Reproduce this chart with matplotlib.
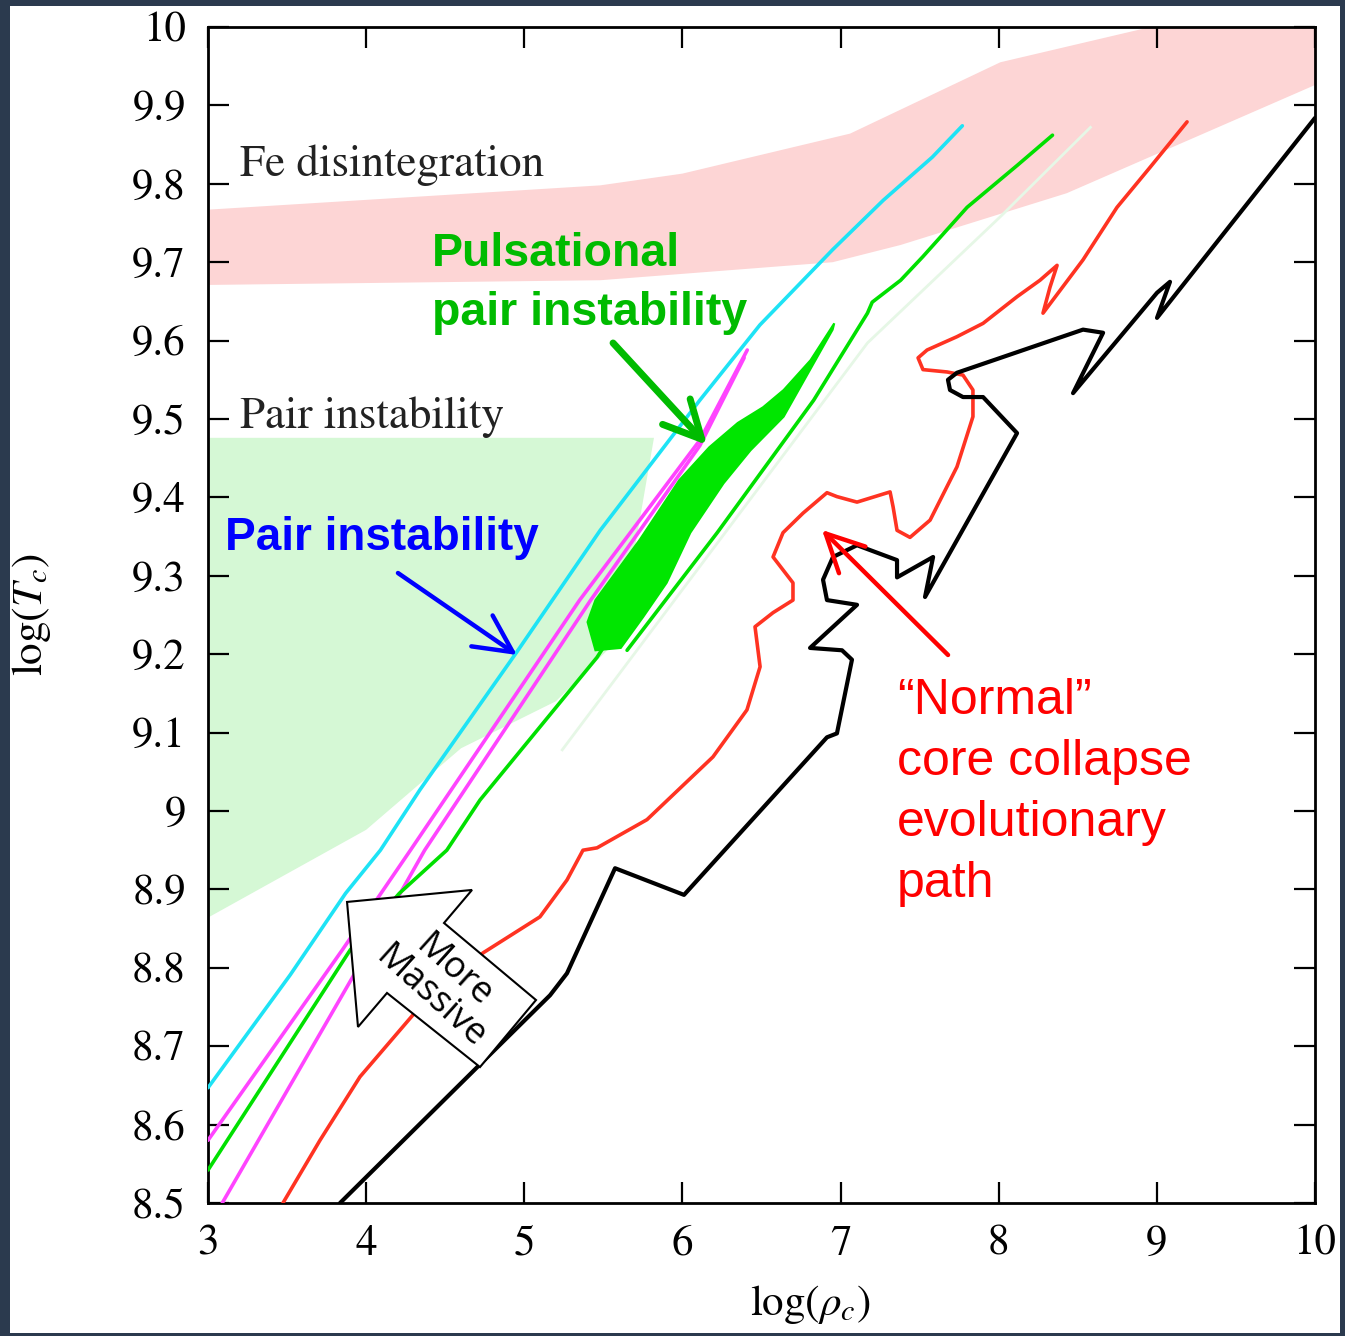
import matplotlib
matplotlib.use("Agg")
import matplotlib.pyplot as plt
from matplotlib.patches import Polygon, Rectangle

plt.rcParams['font.family'] = 'STIXGeneral'
plt.rcParams['mathtext.fontset'] = 'stix'

# Fe disintegration band (log rho, log T)
fe_top_x = [3.0, 5.48, 6.0, 7.06, 8.01, 8.96, 10.0]
fe_top_y = [9.767, 9.798, 9.813, 9.864, 9.955, 10.0, 10.0]
fe_bot_x = [3.0, 5.48, 6.95, 7.38, 8.43, 10.0]
fe_bot_y = [9.671, 9.677, 9.700, 9.722, 9.788, 9.926]

# pair instability region
pi_x = [3.0, 5.82, 5.60, 5.20, 4.60, 4.00, 3.0]
pi_y = [9.476, 9.476, 9.22, 9.14, 9.08, 8.976, 8.864]

# tracks
cyan_x = [3.0, 3.52, 3.87, 4.09, 4.34, 4.95, 5.48, 6.11, 6.49, 6.95, 7.27, 7.58, 7.77]
cyan_y = [8.647, 8.791, 8.895, 8.950, 9.027, 9.202, 9.358, 9.524, 9.620, 9.716, 9.779, 9.834, 9.874]

mag1_x = [3.0, 3.85, 4.28, 5.35, 6.11, 6.41]
mag1_y = [8.58, 8.823, 8.95, 9.269, 9.473, 9.588]
mag2_x = [3.09, 3.94, 4.37, 5.42, 6.11, 6.39]
mag2_y = [8.5, 8.797, 8.95, 9.269, 9.466, 9.578]

green_x = [3.0, 3.90, 4.21, 4.51, 4.72, 5.46, 5.52]
green_y = [8.542, 8.823, 8.895, 8.95, 9.014, 9.196, 9.215]
blob_x = [5.40, 5.45, 5.73, 5.98, 6.17, 6.35, 6.51, 6.64, 6.81, 6.96,
          6.95, 6.76, 6.64, 6.43, 6.26, 6.05, 5.90, 5.75, 5.61, 5.45]
blob_y = [9.241, 9.269, 9.346, 9.422, 9.464, 9.495, 9.515, 9.537, 9.575, 9.622,
          9.614, 9.546, 9.503, 9.460, 9.418, 9.355, 9.291, 9.247, 9.208, 9.205]
green2_x = [5.65, 6.22, 6.83, 7.17, 7.20, 7.38, 7.52, 7.80, 8.12, 8.34]
green2_y = [9.205, 9.355, 9.524, 9.635, 9.649, 9.677, 9.707, 9.770, 9.824, 9.862]
faint_x = [5.24, 7.17, 8.01, 8.58]
faint_y = [9.078, 9.597, 9.758, 9.872]

red_x = [3.474, 3.708, 3.961, 4.322, 4.739, 5.099, 5.270, 5.371, 5.460, 5.776, 6.193, 6.408,
         6.491, 6.459, 6.573, 6.699, 6.699, 6.573, 6.636, 6.763, 6.914, 6.977, 7.104, 7.313,
         7.332, 7.357, 7.439, 7.566, 7.736, 7.837, 7.837, 7.774, 7.673, 7.521, 7.490, 7.547,
         7.736, 7.901, 8.116, 8.261, 8.369, 8.324, 8.280, 8.533, 8.748, 8.957, 9.191]
red_y = [8.5, 8.580, 8.661, 8.746, 8.819, 8.865, 8.912, 8.950, 8.953, 8.989, 9.069, 9.129,
         9.184, 9.235, 9.253, 9.269, 9.291, 9.324, 9.355, 9.380, 9.406, 9.401, 9.394, 9.407,
         9.388, 9.358, 9.349, 9.371, 9.439, 9.503, 9.537, 9.556, 9.560, 9.563, 9.578, 9.588,
         9.605, 9.622, 9.656, 9.677, 9.696, 9.668, 9.635, 9.703, 9.770, 9.821, 9.879]

black_x = [3.835, 4.701, 5.163, 5.270, 5.574, 6.010, 6.914, 6.977, 7.072, 7.009, 6.807, 7.104,
           6.914, 6.889, 6.952, 7.104, 7.357, 7.357, 7.585, 7.534, 8.116, 7.901, 7.774, 7.692,
           7.679, 7.736, 8.533, 8.660, 8.470, 9.001, 9.083, 9.001, 10.0]
black_y = [8.5, 8.673, 8.765, 8.793, 8.927, 8.893, 9.094, 9.099, 9.193, 9.205, 9.208, 9.263,
           9.269, 9.295, 9.324, 9.339, 9.320, 9.298, 9.324, 9.273, 9.482, 9.528, 9.528, 9.537,
           9.550, 9.559, 9.614, 9.610, 9.533, 9.661, 9.675, 9.629, 9.884]

x_ticks = [3, 4, 5, 6, 7, 8, 9, 10]
y_ticks = [8.5, 8.6, 8.7, 8.8, 8.9, 9.0, 9.1, 9.2, 9.3, 9.4, 9.5, 9.6, 9.7, 9.8, 9.9, 10.0]
y_tick_labels = ['8.5', '8.6', '8.7', '8.8', '8.9', '9', '9.1', '9.2', '9.3', '9.4', '9.5',
                 '9.6', '9.7', '9.8', '9.9', '10']

fig = plt.figure(figsize=(13.45, 13.36), dpi=100)
fig.patch.set_facecolor('white')
ax = fig.add_axes([0.15465, 0.09955, 0.82305, 0.88024])

ax.fill(fe_top_x + fe_bot_x[::-1], fe_top_y + fe_bot_y[::-1], color='#fdd5d5', lw=0, zorder=1)
ax.fill(pi_x, pi_y, color='#d5f8d5', lw=0, zorder=1)

line_kw = dict(solid_joinstyle='round', solid_capstyle='round')
ax.plot(faint_x, faint_y, color='#e6f7e6', lw=2, zorder=2)
ax.plot(cyan_x, cyan_y, color='#1ee3f5', lw=2.6, zorder=4, **line_kw)
ax.plot(mag1_x, mag1_y, color='#ff44ff', lw=2.6, zorder=3, **line_kw)
ax.plot(mag2_x, mag2_y, color='#ff44ff', lw=2.6, zorder=3, **line_kw)
ax.plot(green_x, green_y, color='#00e000', lw=2.6, zorder=3, **line_kw)
ax.fill(blob_x, blob_y, facecolor='#00e600', edgecolor='#00e600', lw=1.5, zorder=3)
ax.plot(green2_x, green2_y, color='#00e000', lw=2.6, zorder=3, **line_kw)
ax.plot(red_x, red_y, color='#ff3322', lw=2.6, zorder=3, **line_kw)
ax.plot(black_x, black_y, color='black', lw=3, zorder=3, **line_kw)

ax.set_xlim(3, 10)
ax.set_ylim(8.5, 10)
ax.set_xticks(x_ticks)
ax.set_yticks(y_ticks)
ax.set_yticklabels(y_tick_labels)
ax.tick_params(direction='in', length=15, width=1.6, top=True, right=True,
               labeltop=False, labelright=False, labelsize=31, pad=16)
for s in ax.spines.values():
    s.set_linewidth(2)

ax.set_xlabel(r'$\log(\rho_c)$', fontsize=31)
ax.xaxis.set_label_coords(0.544, -0.068)
ax.set_ylabel(r'$\log(T_c)$', fontsize=31)
ax.yaxis.set_label_coords(-0.140, 0.5)

ax.text(0.029, 0.8827, 'Fe disintegration', transform=ax.transAxes, fontsize=32.5,
        color='#222222', va='center', ha='left', zorder=5)
ax.text(0.029, 0.6684, 'Pair instability', transform=ax.transAxes, fontsize=32.5,
        color='#222222', va='center', ha='left', zorder=5)

sans = 'Liberation Sans'
ax.text(0.2024, 0.782, 'Pulsational\npair instability', transform=ax.transAxes,
        family=sans, fontweight='bold', fontsize=33.5, color='#00bb00',
        va='center', ha='left', linespacing=1.45, zorder=6)
ax.text(0.0154, 0.5655, 'Pair instability', transform=ax.transAxes,
        family=sans, fontweight='bold', fontsize=33, color='#0000ff',
        va='center', ha='left', zorder=6)
ax.text(0.6224, 0.3490, '\u201cNormal\u201d\ncore collapse\nevolutionary\npath',
        transform=ax.transAxes, family=sans, fontsize=36, color='#ff0000',
        va='center', ha='left', linespacing=1.42, zorder=6)

def arrow(tail, head, color, lw):
    ax.annotate('', xy=head, xytext=tail, xycoords='axes fraction', textcoords='axes fraction',
                arrowprops=dict(arrowstyle='->, head_length=0.9, head_width=0.45', color=color,
                                lw=lw, mutation_scale=30, shrinkA=0, shrinkB=0), zorder=7)

arrow((0.3659, 0.7313), (0.4508, 0.6446), '#00bb00', 5)
arrow((0.1716, 0.5357), (0.2791, 0.4660), '#0000ff', 3.2)
arrow((0.6685, 0.4660), (0.5547, 0.5723), '#ff0000', 3.2)

# "More Massive" block arrow
block = [(0.1256, 0.2560), (0.2385, 0.2662), (0.2132, 0.2381), (0.2963, 0.1726),
         (0.2457, 0.1156), (0.1617, 0.1786), (0.1355, 0.1497)]
ax.add_patch(Polygon(block, closed=True, transform=ax.transAxes, facecolor='white',
                     edgecolor='black', lw=1.5, zorder=8))
ax.text(0.2114, 0.1862, 'More\nMassive', transform=ax.transAxes, family='Open Sans',
        fontsize=26, rotation=-42, rotation_mode='anchor', ha='center', va='center',
        linespacing=0.95, zorder=9)

# dark frame
dark = '#2b3a4e'
for r in [(0, 0, 10 / 1345, 1), (0, 1 - 6 / 1336, 1, 6 / 1336),
          (1 - 5 / 1345, 0, 5 / 1345, 1), (0, 0, 1, 3 / 1336)]:
    fig.patches.append(Rectangle(r[:2], r[2], r[3], transform=fig.transFigure,
                                 facecolor=dark, edgecolor='none', zorder=20))

fig.savefig('out.png', dpi=100)
